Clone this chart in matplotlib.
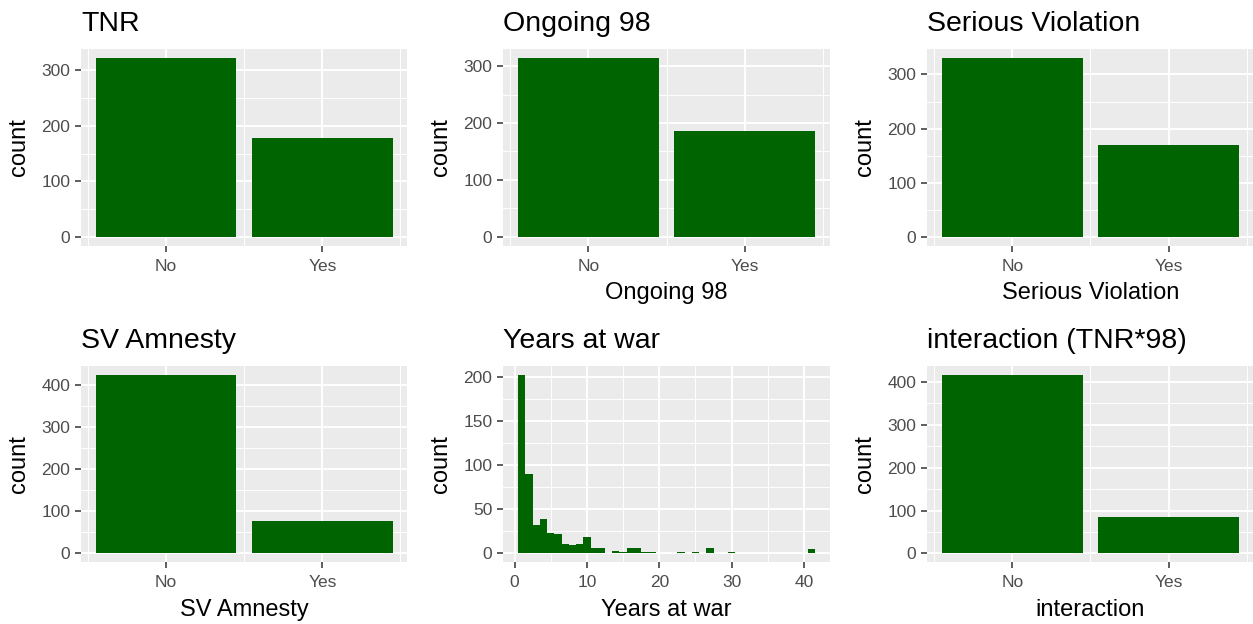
import matplotlib
matplotlib.use("Agg")
import matplotlib.pyplot as plt
import numpy as np
from matplotlib.ticker import FixedLocator

plt.rcParams['font.family'] = ['Liberation Sans', 'DejaVu Sans']

# ---- data ----
categories = ["No", "Yes"]
tnr_counts = [322, 178]
ongoing98_counts = [314, 186]
serious_violation_counts = [330, 170]
sv_amnesty_counts = [424, 76]
interaction_counts = [416, 84]

years_at_war = list(range(1, 42))
years_counts = [202, 90, 32, 39, 23, 22, 11, 10, 11, 19,
                6, 6, 0, 3, 2, 6, 6, 2, 2, 1,
                0, 0, 2, 0, 2, 0, 6, 0, 0, 2,
                0, 0, 0, 0, 0, 0, 0, 0, 0, 0, 5]

# ---- style ----
BAR = "#006400"
PANEL_BG = "#EBEBEB"
TICK_TXT = "#4D4D4D"
TICK_LINE = "#333333"
W, H = 1253, 624
DPI = 100
TITLE_FS = 20.5
AXTITLE_FS = 17
TICK_FS = 12.5

fig = plt.figure(figsize=(W / DPI, H / DPI), dpi=DPI)
fig.patch.set_facecolor("white")


def make_axes(left, top, width, height):
    return fig.add_axes([left / W, (H - top - height) / H, width / W, height / H])


def style(ax, major_x, minor_x, major_y, minor_y):
    ax.set_facecolor(PANEL_BG)
    for s in ax.spines.values():
        s.set_visible(False)
    ax.xaxis.set_major_locator(FixedLocator(major_x))
    ax.xaxis.set_minor_locator(FixedLocator(minor_x))
    ax.yaxis.set_major_locator(FixedLocator(major_y))
    ax.yaxis.set_minor_locator(FixedLocator(minor_y))
    ax.grid(which="major", color="white", linewidth=1.4)
    ax.grid(which="minor", color="white", linewidth=0.7)
    ax.set_axisbelow(True)
    ax.tick_params(which="major", length=4.3, width=1.1, color=TICK_LINE,
                   labelcolor=TICK_TXT, labelsize=TICK_FS)
    ax.tick_params(axis="x", which="major", pad=5)
    ax.tick_params(axis="y", which="major", pad=3.5)
    ax.tick_params(which="minor", length=0)


def labels(ax, title, xlabel=None):
    ax.set_title(title, loc="left", fontsize=TITLE_FS, pad=13)
    ax.set_ylabel("count", fontsize=AXTITLE_FS, labelpad=8)
    if xlabel:
        ax.set_xlabel(xlabel, fontsize=AXTITLE_FS, labelpad=6)


def bar_panel(ax, counts, title, xlabel=None):
    x = np.arange(1, len(categories) + 1)
    ax.bar(x, counts, width=0.9, color=BAR, zorder=2)
    ymax = max(counts)
    ax.set_xlim(0.55 - 0.095, 2.45 + 0.095)
    ax.set_ylim(-0.05 * ymax, 1.05 * ymax)
    top = 1.05 * ymax
    majors = [v for v in range(0, 1000, 100) if v <= top]
    minors = [v for v in range(50, 1000, 100) if v <= top]
    style(ax, list(x), [0.5, 1.5, 2.5], majors, minors)
    ax.set_xticklabels(categories)
    labels(ax, title, xlabel)


col_left = [81, 503.3, 927.3]
pw = 326.4
row_top = [49.3, 366]
ph = 196.4

ax1 = make_axes(col_left[0], row_top[0], pw, ph)
bar_panel(ax1, tnr_counts, "TNR")

ax2 = make_axes(col_left[1], row_top[0], pw, ph)
bar_panel(ax2, ongoing98_counts, "Ongoing 98", "Ongoing 98")

ax3 = make_axes(col_left[2], row_top[0], pw, ph)
bar_panel(ax3, serious_violation_counts, "Serious Violation", "Serious Violation")

ax4 = make_axes(col_left[0], row_top[1], pw, ph)
bar_panel(ax4, sv_amnesty_counts, "SV Amnesty", "SV Amnesty")

ax6 = make_axes(col_left[2], row_top[1], pw, ph)
bar_panel(ax6, interaction_counts, "interaction (TNR*98)", "interaction")

# histogram of years at war (bin width 1)
ax5 = make_axes(col_left[1], row_top[1], pw, ph)
ax5.bar(years_at_war, years_counts, width=1.0, color=BAR, zorder=2)
hmax = max(years_counts)
ax5.set_xlim(0.5 - 0.05 * 41, 41.5 + 0.05 * 41)
ax5.set_ylim(-0.05 * hmax, 1.05 * hmax)
style(ax5, [0, 10, 20, 30, 40], [5, 15, 25, 35],
      [0, 50, 100, 150, 200], [25, 75, 125, 175])
labels(ax5, "Years at war", "Years at war")

fig.savefig("out.png", dpi=DPI)
